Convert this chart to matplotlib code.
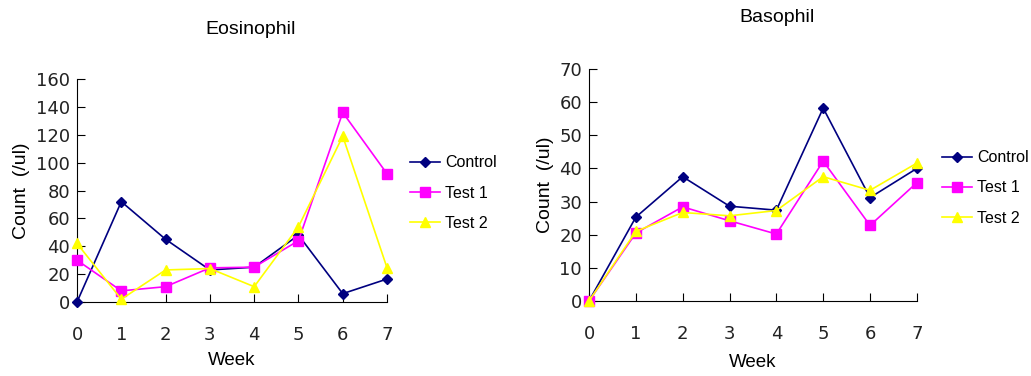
import matplotlib
matplotlib.use("Agg")
import matplotlib.pyplot as plt

plt.rcParams['font.family'] = ['Liberation Sans', 'DejaVu Sans']

weeks = [0, 1, 2, 3, 4, 5, 6, 7]

# eosinophil counts (/ul)
eos_control = [0, 72, 45, 23, 25, 48, 6, 16.5]
eos_test1 = [30, 8, 11, 24.5, 25, 44, 136, 92]
eos_test2 = [42, 2, 23, 24, 11, 54, 119, 24.5]

# basophil counts (/ul)
baso_control = [0, 25.3, 37.5, 28.6, 27.4, 58.2, 31.2, 40]
baso_test1 = [0, 20.5, 28.4, 24.2, 20.2, 42.2, 22.8, 35.7]
baso_test2 = [0, 21, 26.7, 25.7, 27.3, 37.5, 33.4, 41.6]

series_names = ["Control", "Test 1", "Test 2"]
colors = ["#000080", "#FF00FF", "#FFFF00"]
markers = ["D", "s", "^"]
msizes = [5, 7, 7]

fig = plt.figure(figsize=(10.31, 3.76), dpi=100)
ax1 = fig.add_axes([0.0747, 0.1968, 0.3007, 0.593])
ax2 = fig.add_axes([0.5713, 0.1995, 0.318, 0.617])


def draw(ax, data, ymax, ystep, title, title_xy, leg_xy, xlab_pad):
    for vals, name, c, m, ms in zip(data, series_names, colors, markers, msizes):
        ax.plot(weeks, vals, color=c, marker=m, markersize=ms, lw=1.2,
                label=name, clip_on=False, zorder=3)
    ax.set_xlim(0, 7)
    ax.set_ylim(0, ymax)
    ax.set_xticks(weeks)
    ax.set_yticks(range(0, ymax + 1, ystep))
    for s in ["top", "right"]:
        ax.spines[s].set_visible(False)
    ax.tick_params(axis="x", direction="in", length=6, pad=17)
    ax.tick_params(axis="y", direction="in", length=6, pad=5)
    for lbl in ax.get_xticklabels() + ax.get_yticklabels():
        lbl.set_fontfamily("DejaVu Sans")
        lbl.set_fontsize(13)
        lbl.set_color("#222222")
    ax.set_xlabel("Week", fontsize=13.5, labelpad=xlab_pad)
    ax.set_ylabel("Count  (/ul)", fontsize=14, labelpad=4)
    fig.text(title_xy[0], title_xy[1], title, fontsize=14,
             ha="center", va="center")
    ax.legend(loc="center left", bbox_to_anchor=leg_xy,
              bbox_transform=fig.transFigure, frameon=False, fontsize=11.5,
              handlelength=1.9, handletextpad=0.3, labelspacing=0.95,
              borderaxespad=0, borderpad=0)


draw(ax1, [eos_control, eos_test1, eos_test2], 160, 20, "Eosinophil",
     (251 / 1031, 1 - 30 / 376), (410 / 1031, 1 - 193 / 376), 6)
draw(ax2, [baso_control, baso_test1, baso_test2], 70, 10, "Basophil",
     (777 / 1031, 1 - 18 / 376), (942 / 1031, 1 - 188 / 376), 8)

fig.savefig("out.png", dpi=100)
